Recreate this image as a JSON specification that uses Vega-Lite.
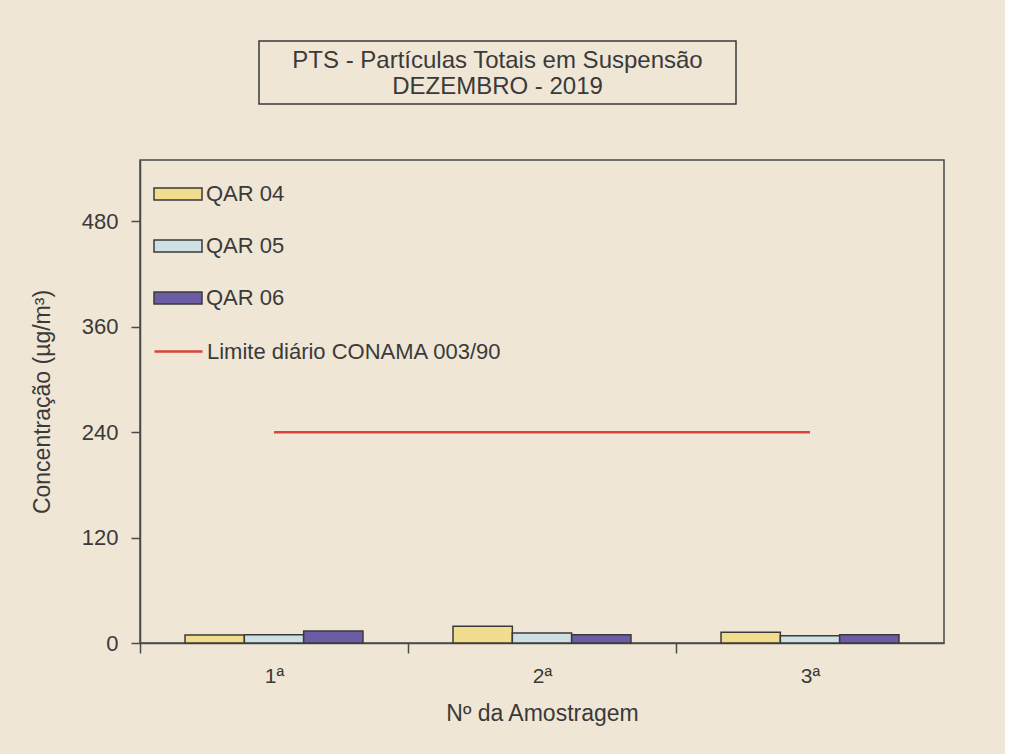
{
  "$schema": "https://vega.github.io/schema/vega-lite/v6.json",
  "background": "#efe6d5",
  "padding": {"left": 30, "top": 40, "right": 60, "bottom": 28},
  "config": {
    "font": "Liberation Sans",
    "view": {"stroke": null},
    "axis": {"labelColor": "#3a3a3a", "titleColor": "#3a3a3a", "domainColor": "#4a4a4a", "tickColor": "#4a4a4a", "domainWidth": 1.5, "tickWidth": 1.5, "titleFontWeight": "normal", "labelFont": "Liberation Sans", "titleFont": "Liberation Sans"},
    "legend": {"labelColor": "#3a3a3a", "labelFont": "Liberation Sans"}
  },
  "datasets": {
    "bars": [
      {"sample": "1ª", "station": "QAR 04", "value": 9},
      {"sample": "1ª", "station": "QAR 05", "value": 9.5},
      {"sample": "1ª", "station": "QAR 06", "value": 13.7},
      {"sample": "2ª", "station": "QAR 04", "value": 19},
      {"sample": "2ª", "station": "QAR 05", "value": 11.4},
      {"sample": "2ª", "station": "QAR 06", "value": 9.5},
      {"sample": "3ª", "station": "QAR 04", "value": 12.2},
      {"sample": "3ª", "station": "QAR 05", "value": 8.3},
      {"sample": "3ª", "station": "QAR 06", "value": 9.5}
    ],
    "limit": [
      {"sample": "1ª", "serie": "Limite diário CONAMA 003/90", "limit": 240},
      {"sample": "2ª", "serie": "Limite diário CONAMA 003/90", "limit": 240},
      {"sample": "3ª", "serie": "Limite diário CONAMA 003/90", "limit": 240}
    ]
  },
  "vconcat": [
    {
      "hconcat": [
        {
          "width": 98,
          "height": 63,
          "data": {"values": [{"k": 1}]},
          "mark": {"type": "text", "text": ""},
          "encoding": {}
        },
        {
          "width": 477,
          "height": 63,
          "view": {"stroke": "#3a3a3a", "strokeWidth": 1.5},
          "data": {"values": [{"k": 1}]},
          "mark": {"type": "text", "text": ["PTS - Partículas Totais em Suspensão", "DEZEMBRO - 2019"], "fontSize": 24, "lineHeight": 26, "dy": -12, "color": "#3a3a3a", "font": "Liberation Sans", "baseline": "middle", "align": "center"},
          "encoding": {}
        }
      ],
      "spacing": 20
    },
    {
      "width": 804,
      "height": 483,
      "view": {"stroke": "#4a4a4a", "strokeWidth": 1.5},
      "layer": [
        {
          "data": {"name": "bars"},
          "mark": {"type": "bar", "stroke": "#3a3a3a", "strokeWidth": 1.5},
          "encoding": {
            "x": {"field": "sample", "type": "nominal", "sort": ["1ª", "2ª", "3ª"],
              "scale": {"paddingInner": 0.336, "paddingOuter": 0.168},
              "axis": {"title": "Nº da Amostragem", "labelAngle": 0, "tickSize": 10, "tickOffset": -134, "labelOffset": 134, "labelPadding": 12, "titlePadding": 16, "labelFontSize": 21, "titleFontSize": 23}},
            "xOffset": {"field": "station", "type": "nominal", "scale": {"paddingInner": 0, "paddingOuter": 0}},
            "y": {"field": "value", "type": "quantitative", "scale": {"domain": [0, 550], "nice": false},
              "axis": {"title": "Concentração (µg/m³)", "values": [0, 120, 240, 360, 480], "tickSize": 9, "labelPadding": 13, "labelFontSize": 22, "titleFontSize": 23, "titlePadding": 27, "grid": false}},
            "fill": {"field": "station", "type": "nominal",
              "scale": {"domain": ["QAR 04", "QAR 05", "QAR 06"], "range": ["#f2dc8e", "#cfe0e4", "#6b5ca5"]},
              "legend": {"title": null, "orient": "none", "legendX": 13, "legendY": 9, "padding": 0, "symbolType": "M-1,-0.25H1V0.25H-1Z", "symbolSize": 2304, "symbolStrokeColor": "#3a3a3a", "symbolStrokeWidth": 1.5, "symbolOpacity": 1, "labelFontSize": 22, "labelOffset": 3, "rowPadding": 16, "labelLimit": 0}}
          }
        },
        {
          "data": {"name": "limit"},
          "mark": {"type": "line", "strokeWidth": 2.5},
          "encoding": {
            "x": {"field": "sample", "type": "nominal", "sort": ["1ª", "2ª", "3ª"]},
            "y": {"field": "limit", "type": "quantitative"},
            "stroke": {"field": "serie", "type": "nominal",
              "scale": {"range": ["#d9453a"]},
              "legend": {"title": null, "orient": "none", "legendX": 13, "legendY": 166, "padding": 0, "symbolType": "stroke", "symbolSize": 2304, "symbolStrokeWidth": 2.5, "labelFontSize": 22, "labelOffset": 3, "labelLimit": 0}}
          }
        }
      ]
    }
  ],
  "spacing": 54,
  "resolve": {"scale": {"fill": "independent", "stroke": "independent"}, "legend": {"fill": "independent", "stroke": "independent"}}
}
